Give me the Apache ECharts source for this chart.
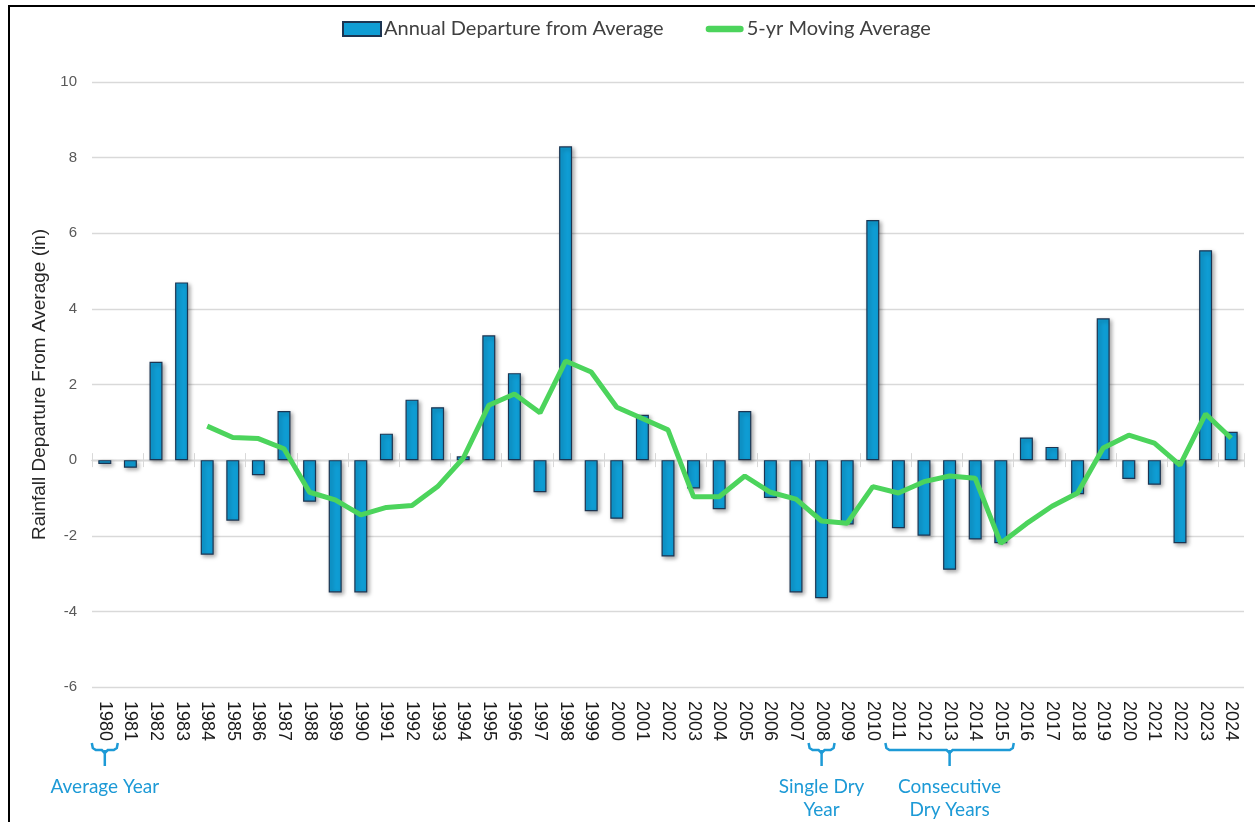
<!DOCTYPE html>
<html>
<head>
<meta charset="utf-8">
<title>Rainfall Departure From Average</title>
<script src="https://cdn.jsdelivr.net/npm/echarts@6/dist/echarts.min.js"></script>
<style>
  html, body { margin: 0; padding: 0; background: #fff; }
  #chart { position: absolute; left: 0; top: 0; width: 1255px; height: 822px; }
  .frame {
    position: absolute; left: 8px; top: 5px; width: 1260px; height: 830px;
    border-top: 2px solid #000; border-left: 2px solid #000;
    pointer-events: none;
  }
</style>
</head>
<body>
<div id="chart"></div>
<div class="frame"></div>
<script>
// years on the category axis
var years = [];
for (var y = 1980; y <= 2024; y++) years.push(String(y));

// annual departure from average (in)
var annualDeparture = [
  -0.1, -0.2, 2.6, 4.7, -2.5, -1.6, -0.4, 1.3, -1.1, -3.5,
  -3.5, 0.7, 1.6, 1.4, 0.1, 3.3, 2.3, -0.85, 8.3, -1.35,
  -1.55, 1.2, -2.55, -0.75, -1.3, 1.3, -1.0, -3.5, -3.65, -1.7,
  6.35, -1.8, -2.0, -2.9, -2.1, -2.2, 0.6, 0.35, -0.9, 3.75,
  -0.5, -0.65, -2.2, 5.55, 0.75
];

// 5-yr moving average (starts 1984)
var movingAvg = [
  null, null, null, null, 0.9, 0.6, 0.57, 0.3, -0.85, -1.05,
  -1.45, -1.25, -1.2, -0.7, 0.05, 1.45, 1.75, 1.25, 2.62, 2.33,
  1.4, 1.1, 0.8, -0.97, -0.97, -0.42, -0.85, -1.03, -1.61, -1.67,
  -0.7, -0.87, -0.57, -0.42, -0.48, -2.2, -1.68, -1.22, -0.87, 0.32,
  0.66, 0.45, -0.13, 1.22, 0.58
];

// bracketed annotations under the axis
var notes = [
  { from: '1980', to: '1980', lines: ['Average Year'] },
  { from: '2008', to: '2008', lines: ['Single Dry', 'Year'] },
  { from: '2011', to: '2015', lines: ['Consecutive', 'Dry Years'] }
];

var blue = '#0f9dd4';
var green = '#4cd45c';
var noteBlue = '#1d9ad6';
var gridLeft = 92, gridRight = 11, gridTop = 82, gridBottom = 135;

var chart = echarts.init(document.getElementById('chart'));

chart.setOption({
  animation: false,
  legend: {
    top: 14,
    left: 337,
    itemWidth: 38,
    itemHeight: 14,
    itemGap: 42,
    symbolKeepAspect: true,
    textStyle: { fontFamily: 'Lato', fontSize: 20, color: '#404040', padding: [0, 0, 0, -2] },
    data: [
      { name: 'Annual Departure from Average', icon: 'rect' },
      {
        name: '5-yr Moving Average',
        icon: 'path://M3.5,0 L36.5,0 A3.5,3.5 0 0 1 36.5,7 L3.5,7 A3.5,3.5 0 0 1 3.5,0 Z',
        itemStyle: { color: green, borderWidth: 0 }
      }
    ]
  },
  grid: [{ left: gridLeft, right: gridRight, top: gridTop, bottom: gridBottom }],
  xAxis: [
    {
      type: 'category',
      data: years,
      position: 'bottom',
      axisLine: { show: false, onZero: false },
      axisTick: { show: false },
      axisLabel: {
        rotate: -90,
        interval: 0,
        margin: 14,
        fontFamily: 'Liberation Sans',
        fontSize: 18,
        color: '#1a1a1a'
      }
    }
  ],
  yAxis: [{
    type: 'value',
    min: -6,
    max: 10,
    interval: 2,
    name: 'Rainfall Departure From Average (in)',
    nameLocation: 'middle',
    nameRotate: 90,
    nameGap: 37,
    nameTextStyle: { fontFamily: 'Liberation Sans', fontSize: 19, color: '#262626' },
    axisLine: { show: false },
    axisTick: { show: false },
    axisLabel: { fontFamily: 'Liberation Sans', fontSize: 15, color: '#595959', margin: 15 },
    splitLine: { lineStyle: { color: '#d9d9d9', width: 1.3 } }
  }],
  series: [
    {
      name: 'Annual Departure from Average',
      type: 'bar',
      data: annualDeparture,
      barWidth: 13,
      itemStyle: {
        color: blue,
        borderColor: '#1c3552',
        borderWidth: 1.2,
        shadowColor: 'rgba(0,0,0,0.35)',
        shadowBlur: 4,
        shadowOffsetX: 2,
        shadowOffsetY: 2
      },
      z: 2
    },
    {
      name: '5-yr Moving Average',
      type: 'line',
      data: movingAvg,
      symbol: 'none',
      connectNulls: false,
      lineStyle: { color: green, width: 5 },
      itemStyle: { color: green },
      z: 3
    }
  ]
});

// horizontal axis line at zero with cross ticks: two thin helper grids
// whose edges sit on the zero line of the main value axis
function addZeroAxis() {
  var zeroY = chart.convertToPixel({ yAxisIndex: 0 }, 0);
  var h = chart.getHeight();
  var tickAxis = function (gridIndex, position) {
    return {
      type: 'category',
      gridIndex: gridIndex,
      data: years,
      position: position,
      axisLine: { show: true, onZero: false, lineStyle: { color: '#d9d9d9', width: 1.3 } },
      axisTick: { show: true, length: 7, lineStyle: { color: '#d9d9d9' } },
      axisLabel: { show: false },
      splitLine: { show: false },
      z: 1
    };
  };
  var hiddenY = function (gridIndex) {
    return { type: 'value', gridIndex: gridIndex, show: false, min: 0, max: 1, splitLine: { show: false } };
  };
  chart.setOption({
    grid: [
      { left: gridLeft, right: gridRight, top: gridTop, bottom: gridBottom },
      { left: gridLeft, right: gridRight, top: zeroY - 10, bottom: h - zeroY },
      { left: gridLeft, right: gridRight, top: zeroY, bottom: h - zeroY - 10 }
    ],
    xAxis: [{}, tickAxis(1, 'bottom'), tickAxis(2, 'top')],
    yAxis: [{}, hiddenY(1), hiddenY(2)]
  });
}
addZeroAxis();

// brackets and their labels, positioned from the category axis
function drawNotes() {
  var els = [];
  var yTop = 743, yMid = 750, yStem = 766;
  notes.forEach(function (n) {
    var x0 = chart.convertToPixel({ xAxisIndex: 0 }, n.from) - 13;
    var x1 = chart.convertToPixel({ xAxisIndex: 0 }, n.to) + 13;
    var xc = (x0 + x1) / 2;
    els.push({
      type: 'polyline',
      shape: { points: [[x0, yTop], [x0 + 1, yMid - 2], [x0 + 4, yMid], [xc - 3, yMid], [xc, yMid + 3], [xc + 3, yMid], [x1 - 4, yMid], [x1 - 1, yMid - 2], [x1, yTop]] },
      style: { stroke: noteBlue, lineWidth: 2.5, fill: null }
    });
    els.push({
      type: 'line',
      shape: { x1: xc, y1: yMid, x2: xc, y2: yStem },
      style: { stroke: noteBlue, lineWidth: 2.5 }
    });
    n.lines.forEach(function (t, i) {
      els.push({
        type: 'text',
        x: xc,
        y: 787 + i * 23,
        style: {
          text: t,
          fill: noteBlue,
          font: '19px Lato',
          align: 'center',
          verticalAlign: 'middle'
        }
      });
    });
  });
  chart.setOption({ graphic: els });
}
drawNotes();
</script>
</body>
</html>
